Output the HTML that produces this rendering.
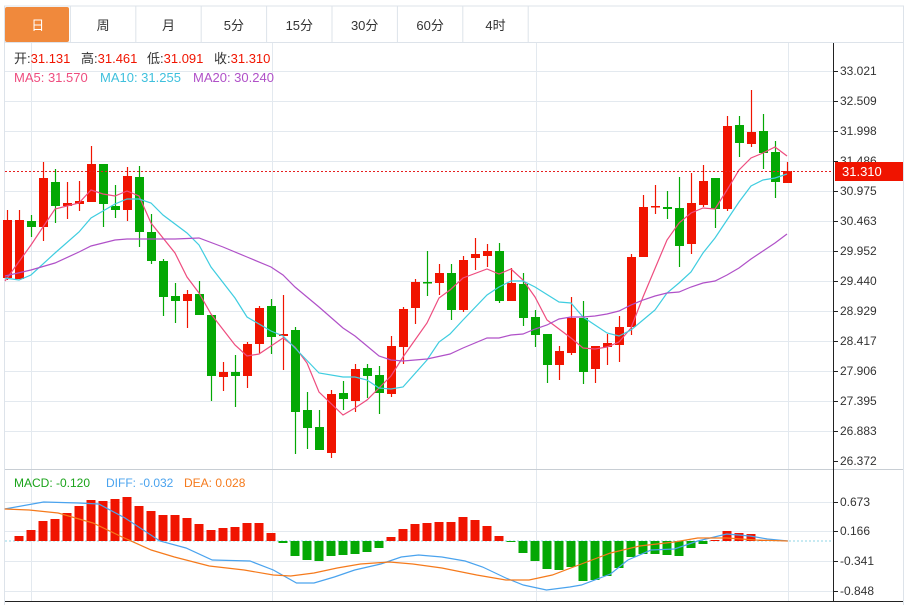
<!DOCTYPE html>
<html><head><meta charset="utf-8"><style>
body{margin:0;background:#fff;font-family:"Liberation Sans","Noto Sans CJK SC",sans-serif;}
svg{display:block}
</style></head><body>
<svg id="s" width="908" height="605" xmlns="http://www.w3.org/2000/svg" font-family="Liberation Sans, Noto Sans CJK SC, sans-serif"></svg>
<script>
const s=document.getElementById('s');let h='';
const E=(t)=>h+=t;
E('<rect x="0" y="0" width="908" height="605" fill="#fff"/>');
E('<line x1="4" y1="6" x2="904" y2="6" stroke="#dde3ea"/>');
E('<line x1="4" y1="42.5" x2="904" y2="42.5" stroke="#dde3ea"/>');
E('<line x1="4.5" y1="6" x2="4.5" y2="605" stroke="#dde3ea"/>');
E('<line x1="903.5" y1="6" x2="903.5" y2="605" stroke="#dde3ea"/>');
const tabs=['日','周','月','5分','15分','30分','60分','4时'];
tabs.forEach((t,i)=>{const x=5+i*65.4;
 if(i==0)E(`<rect x="5" y="7" width="64" height="35" rx="2" fill="#f0893c"/>`);
 E(`<line x1="${(x+65.4).toFixed(1)}" y1="6" x2="${(x+65.4).toFixed(1)}" y2="42" stroke="#dde3ea"/>`);
 E(`<text x="${(x+32.7).toFixed(1)}" y="30" font-size="13" text-anchor="middle" fill="${i==0?'#fff':'#333'}">${t}</text>`);});
for(let k=0;k<13;k++){const y=71+30*k+0.5;E(`<line x1="5" y1="${y}" x2="833" y2="${y}" stroke="#e3e9ef"/>`);}
[31,272,536,788].forEach(x=>E(`<line x1="${x+.5}" y1="43" x2="${x+.5}" y2="601" stroke="#e3e9ef"/>`));
E('<line x1="5" y1="469.5" x2="903" y2="469.5" stroke="#c8ced4"/>');
[502,531,561,591].forEach(y=>E(`<line x1="5" y1="${y+.5}" x2="833" y2="${y+.5}" stroke="#e3e9ef"/>`));
E('<line x1="5" y1="601.5" x2="903" y2="601.5" stroke="#222"/>');
E('<line x1="833.5" y1="43" x2="833.5" y2="601" stroke="#222"/>');
const pl=['33.021','32.509','31.998','31.486','30.975','30.463','29.952','29.440','28.929','28.417','27.906','27.395','26.883','26.372'];
pl.forEach((t,k)=>{const y=71+30*k;E(`<line x1="833" y1="${y+.5}" x2="838" y2="${y+.5}" stroke="#222"/><text x="840" y="${y+4}" font-size="12" fill="#333">${t}</text>`);});
[['0.673',502],['0.166',531],['-0.341',561],['-0.848',591]].forEach(a=>E(`<line x1="833" y1="${a[1]+.5}" x2="838" y2="${a[1]+.5}" stroke="#222"/><text x="840" y="${a[1]+4}" font-size="12" fill="#333">${a[0]}</text>`));
const C=[[220,278,210,280,1],[220,279,210,279,1],[221,227,215,237,0],[178,227,162,241,1],[182,206,169,223,0],[203,206,182,219,1],[201,204,181,211,1],[164,202,146,202,1],[164,204,164,227,0],[206,210,185,218,0],[176,210,167,221,1],[177,232,166,247,0],[232,261,214,264,0],[261,297,259,316,0],[296,301,283,323,0],[294,301,290,328,1],[294,315,281,315,0],[315,376,315,401,0],[372,377,362,391,1],[372,376,355,407,0],[344,376,342,388,1],[308,344,306,353,1],[306,337,299,354,0],[334,336,295,370,1],[330,412,327,454,0],[410,428,392,449,0],[427,450,410,450,0],[394,453,390,458,1],[393,399,381,410,0],[369,401,364,412,1],[368,376,364,398,0],[375,393,366,414,0],[346,394,336,397,1],[309,347,307,364,1],[282,308,279,324,1],[282,283,251,296,0],[273,283,264,295,1],[273,310,264,320,0],[260,310,256,312,1],[254,258,238,270,1],[251,256,244,267,1],[251,301,243,303,0],[283,301,268,301,1],[284,318,273,326,0],[317,335,310,347,0],[334,365,334,383,0],[351,365,346,380,1],[318,353,297,355,1],[318,372,301,384,0],[346,369,346,383,1],[343,347,334,365,1],[327,345,316,362,1],[257,327,254,335,1],[207,257,195,257,1],[206,207,185,214,1],[207,209,191,219,0],[208,246,177,267,0],[203,244,173,254,1],[181,205,165,207,1],[178,209,178,228,0],[126,209,116,211,1],[125,143,116,157,0],[132,144,90,147,1],[131,153,114,169,0],[152,182,141,198,0],[171,183,162,183,1]];
const R='#f01400',G='#04a804';
C.forEach((c,i)=>{const x=7+12*i,col=c[4]?R:G;
 E(`<line x1="${x+.5}" y1="${c[2]}" x2="${x+.5}" y2="${c[3]}" stroke="${col}" stroke-width="1.2"/>`);
 E(`<rect x="${x-4}" y="${c[0]}" width="9" height="${Math.max(1.5,c[1]-c[0])}" fill="${col}"/>`);});
const poly=(pts,col,w)=>E(`<polyline points="${pts.map(p=>p.join(',')).join(' ')}" fill="none" stroke="${col}" stroke-width="${w||1.2}"/>`);
poly([[5,281],[31,245],[55,209],[79,203],[91,190],[103,194],[115,196],[127,191],[139,196],[151,223],[175,253],[187,277],[199,293],[211,314],[235,345],[247,356],[259,354],[283,338],[295,347],[307,363],[319,392],[343,415],[355,408],[367,400],[391,376],[403,357],[427,323],[439,298],[450,290],[463,278],[487,269],[499,274],[511,269],[523,280],[535,297],[547,320],[571,338],[583,348],[595,349],[607,347],[619,342],[631,328],[643,297],[667,240],[679,223],[691,213],[703,208],[715,209],[727,190],[739,170],[751,158],[763,153],[775,147],[787,156]],'#ee4d7f');
poly([[5,278],[19,280],[31,275],[55,253],[79,232],[91,218],[115,204],[127,199],[139,199],[151,203],[163,215],[187,233],[199,245],[211,267],[235,298],[247,317],[271,331],[283,336],[295,348],[319,373],[343,377],[355,377],[367,380],[379,388],[391,389],[403,387],[427,360],[439,342],[450,334],[463,320],[487,295],[499,287],[511,281],[523,281],[535,287],[559,302],[571,303],[583,317],[595,325],[607,333],[619,336],[631,330],[643,320],[655,310],[667,293],[679,283],[691,272],[703,253],[715,238],[727,220],[739,202],[751,186],[763,180],[775,178],[787,174]],'#3fcde0');
poly([[5,276],[31,270],[55,263],[79,252],[91,246],[115,240],[127,239],[151,239],[175,239],[199,238],[223,247],[247,257],[271,267],[283,275],[295,287],[319,307],[343,328],[355,336],[367,346],[379,356],[391,360],[403,361],[427,359],[450,354],[463,348],[487,338],[499,338],[511,335],[523,334],[535,329],[547,325],[559,319],[571,317],[583,317],[595,316],[607,314],[619,311],[631,305],[643,300],[655,296],[667,293],[679,292],[691,287],[703,283],[715,281],[727,275],[739,268],[751,259],[763,251],[775,243],[787,234]],'#b051c8');
E('<line x1="5" y1="171.5" x2="833" y2="171.5" stroke="#e52020" stroke-dasharray="2,2"/>');
E('<rect x="835" y="162" width="68" height="19" fill="#f01400"/><text x="842" y="176" font-size="13" fill="#fff">31.310</text>');
// legend
E('<text y="63" font-size="13" fill="#333"><tspan x="14">开:</tspan><tspan fill="#f01400">31.131</tspan><tspan x="81">高:</tspan><tspan fill="#f01400">31.461</tspan><tspan x="147">低:</tspan><tspan fill="#f01400">31.091</tspan><tspan x="214">收:</tspan><tspan fill="#f01400">31.310</tspan></text>');
E('<text y="82" font-size="13"><tspan x="14" fill="#ee4d7f">MA5: 31.570</tspan><tspan x="100" fill="#3fc0dd">MA10: 31.255</tspan><tspan x="193" fill="#b051c8">MA20: 30.240</tspan></text>');
const B=[0,5,11,20,22,28,35,41,40,42,44,35,30,26,26,23,17,11,13,14,18,18,8,-2,-15,-19,-20,-15,-14,-13,-11,-7,4,12,17,18,19,19,24,21,15,5,-1,-12,-20,-28,-29,-26,-40,-39,-35,-27,-16,-13,-13,-14,-15,-7,-3,1,10,8,7,1,0,0];
E('<line x1="5" y1="541" x2="833" y2="541" stroke="#8fd4e6" stroke-dasharray="2,2"/>');
B.forEach((v,i)=>{if(!v)return;const x=7+12*i;E(`<rect x="${x-4.5}" y="${v>0?541-v:541}" width="9" height="${Math.abs(v)}" fill="${v>0?R:G}"/>`);});
const Q=(a)=>a.map(p=>[(p[0]/1.72).toFixed(1),p[1]]);
poly(Q([[8,509],[75,502],[135,503],[170,504],[215,518],[275,541],[320,548],[365,560],[430,561],[470,570],[510,583],[540,583],[575,577],[610,570],[655,564],[690,557],[720,555],[760,557],[800,561],[830,567],[870,578],[900,585],[940,590],[980,587],[1000,585],[1050,574],[1080,560],[1120,550],[1160,549],[1200,541],[1250,534],[1290,536],[1320,539],[1355,541]]),'#4aa3ee');
poly(Q([[8,509],[50,510],[100,513],[160,523],[210,537],[260,550],[300,557],[360,566],[420,570],[470,575],[500,576],[540,573],[580,568],[620,564],[670,562],[710,564],[760,568],[820,575],[870,580],[910,580],[950,575],[1000,564],[1050,553],[1100,546],[1160,542],[1200,538],[1250,538],[1300,540],[1355,541]]),'#f57a1c');
E('<text y="487" font-size="12"><tspan x="14" fill="#1aa31a">MACD: -0.120</tspan><tspan x="106" fill="#4aa3ee">DIFF: -0.032</tspan><tspan x="184" fill="#f57a1c">DEA: 0.028</tspan></text>');
s.innerHTML=h;
</script>
</body></html>
